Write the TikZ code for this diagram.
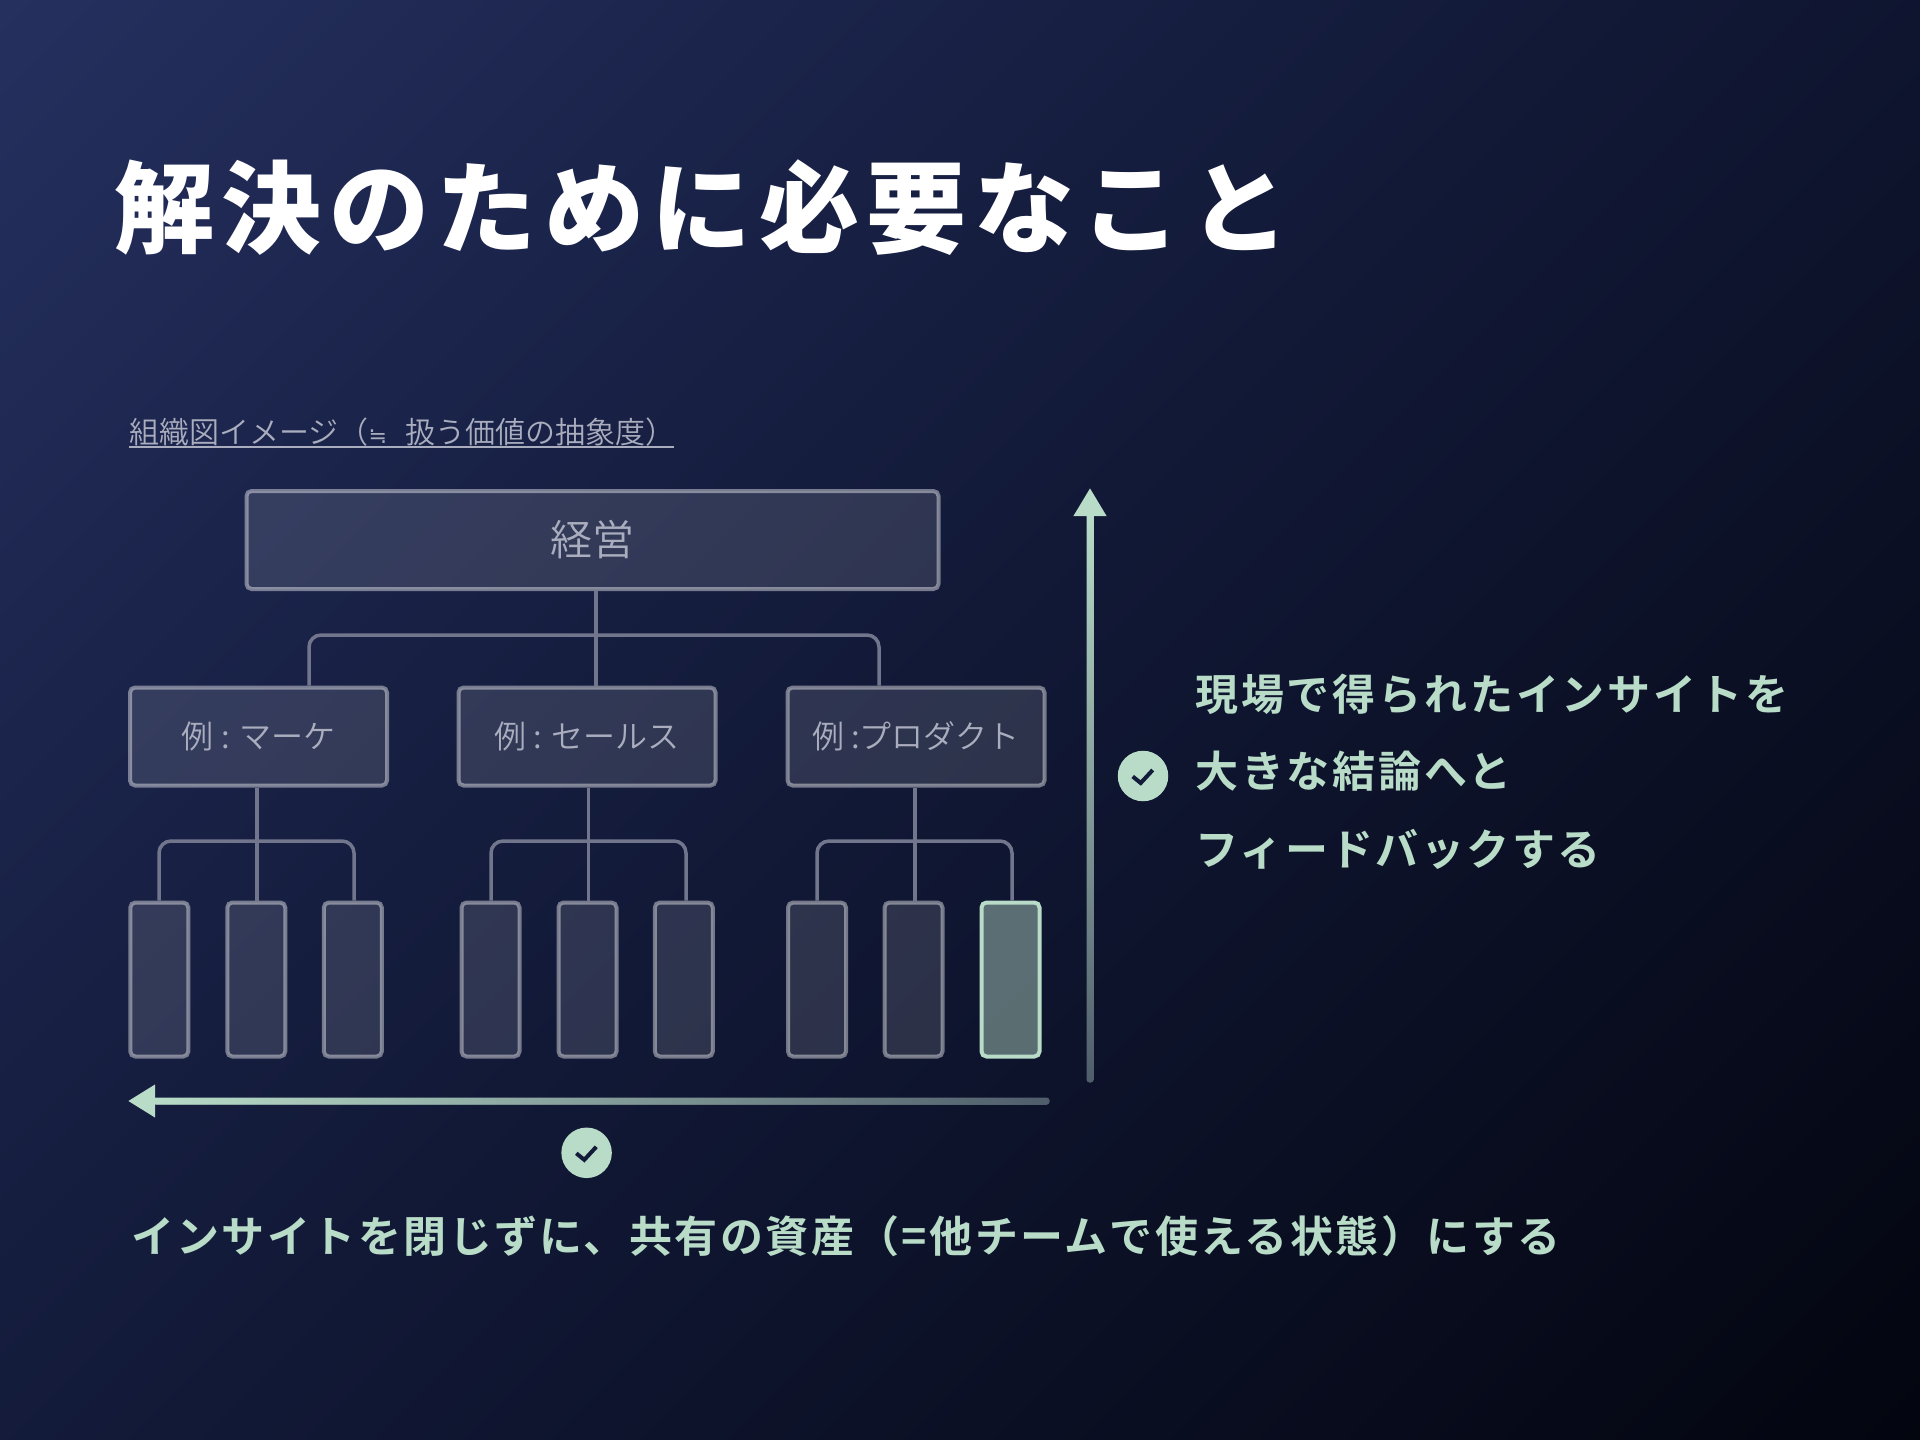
\documentclass[tikz,border=0pt]{standalone}
\usepackage{fontspec}
\setmainfont{Noto Sans CJK JP DemiLight}
\newfontfamily\symf{DejaVu Sans}
\newfontfamily\ttl{Noto Sans CJK JP Black}[LetterSpace=7.5]
\newfontfamily\mintf{Noto Sans CJK JP Bold}[LetterSpace=5.6]
\newfontfamily\mintg{Noto Sans CJK JP Bold}[LetterSpace=6.6]
\usetikzlibrary{arrows.meta,calc}
\definecolor{bgA}{HTML}{25305F}
\definecolor{bgM}{HTML}{1A2349}
\definecolor{bgB}{HTML}{111835}
\definecolor{bgC}{HTML}{03050F}
\definecolor{mint}{HTML}{B8DCC8}
\definecolor{mintdark}{HTML}{4F5D6B}
\definecolor{linec}{HTML}{72768D}
\definecolor{labelc}{HTML}{A9ADBD}
\definecolor{ink}{HTML}{141B3A}
\pgfdeclarehorizontalshading{bgdiag}{100bp}{color(0bp)=(bgA); color(25bp)=(bgA); color(37.5bp)=(bgM); color(50bp)=(bgB); color(75bp)=(bgC); color(100bp)=(bgC)}
\tikzset{
  boxbase/.style={draw=white,draw opacity=.42,fill=white,fill opacity=.12,text opacity=1,
    line width=4pt,rounded corners=5pt,inner sep=0pt,text=labelc},
  topbox/.style={boxbase,minimum width=692pt,minimum height=98pt,font=\fontsize{42}{50}\selectfont},
  midbox/.style={boxbase,minimum width=257pt,minimum height=98pt,font=\fontsize{32}{38}\selectfont},
  leafbox/.style={boxbase,minimum width=58pt,minimum height=154pt},
  hotbox/.style={leafbox,draw=mint,draw opacity=1,fill=mint,fill opacity=.45},
  conn/.style={draw=linec,line width=3.5pt},
  rail/.style={conn,rounded corners=12pt},
  axisline/.style={draw=mintdark,line width=7pt,line cap=round},
  tickdisc/.style={circle,fill=mint,minimum size=50.5pt,inner sep=0pt},
  tickmark/.style={draw=ink,line width=4pt,line join=miter},
  mintlabel/.style={anchor=west,inner sep=0pt,text=mint,font=\mintf\fontsize{43}{50}\selectfont},
  mintwide/.style={mintlabel,font=\mintg\fontsize{43}{50}\selectfont},
}
\begin{document}
\begin{tikzpicture}[x=1pt,y=-1pt]
\useasboundingbox (0,0) rectangle (1920,1440);
\begin{scope}
\clip (0,0) rectangle (1920,1440);
\shade[shading=bgdiag,transform canvas={rotate around={-45:(960,720)}}] (-228,-468) rectangle (2148,1908);
\end{scope}
% title and caption
\node[anchor=west,inner sep=0pt,text=white,font=\ttl\fontsize{100}{120}\selectfont] (title) at (114,208) {解決のために必要なこと};
\node[anchor=west,inner sep=0pt,text=labelc,font=\fontsize{30}{36}\selectfont] (caption) at (129,432) {組織図イメージ（{\symf\fontsize{22}{36}\selectfont ≒}\hspace*{18pt}扱う価値の抽象度）};
\coordinate (capL) at (129,447);
\coordinate (capR) at (674,447);
\draw[draw=labelc,line width=1.6pt] (capL) -- (capR);
% boxes
\node[topbox] (top) at (592.5,540) {経営};
\node[midbox] (m1) at (258.5,736.5) {\raisebox{-2pt}{例 : マーケ}};
\node[midbox] (m2) at (587,736.5) {\raisebox{-2pt}{例 : セールス}};
\node[midbox] (m3) at (916,736.5) {\raisebox{-2pt}{例 :プロダクト}};
\foreach \n/\x in {a1/159.3,a2/256.3,a3/352.8,b1/490.5,b2/587.5,b3/683.8,c1/817,c2/913.5}{
  \node[leafbox] (\n) at (\x,979.5) {};
}
\node[hotbox] (c3) at (1010.5,979.5) {};
% connectors
\coordinate (r1) at (309,635);
\coordinate (r2) at (596,635);
\coordinate (r3) at (879,635);
\draw[conn] (top.south -| r2) -- (m2.north -| r2);
\draw[rail] (m1.north -| r1) -- (r1) -- (r3) -- (m3.north -| r3);
\foreach \m/\l/\c/\r/\cx/\lx/\rx in {m1/a1/a2/a3/257/159/354,m2/b1/b2/b3/588.5/491/686,m3/c1/c2/c3/915/817/1012}{
  \coordinate (rl) at (\lx,841);
  \coordinate (rr) at (\rx,841);
  \coordinate (rc) at (\cx,841);
  \draw[conn] (\m.south -| rc) -- (\c.north -| rc);
  \draw[rail] (\l.north -| rl) -- (rl) -- (rr) -- (\r.north -| rr);
}
% axis arrows
\coordinate (upFrom) at (1090,1079);
\coordinate (upTip) at (1090,488);
\coordinate (leftFrom) at (1046,1101);
\coordinate (leftTip) at (128,1101);
\draw[axisline,-{Triangle[length=28pt,width=31pt,color=mint]}] (upFrom) -- (upTip);
\draw[axisline,-{Triangle[length=27pt,width=31pt,color=mint]}] (leftFrom) -- (leftTip);
\shade[top color=mint,middle color=mint!88!mintdark,bottom color=mintdark,rounded corners=3pt] (1086.5,513) rectangle (1093.5,1082.5);
\shade[left color=mint,middle color=mint!65!mintdark,right color=mintdark,rounded corners=3pt] (153,1097.5) rectangle (1049.5,1104.5);
% ticks
\node[tickdisc] (t1) at (1143,776) {};
\draw[tickmark] ($(t1)+(-10.3,0.5)$) -- ($(t1)+(-2.3,7)$) -- ($(t1)+(9.7,-6)$);
\node[tickdisc] (t2) at (586.6,1152.8) {};
\draw[tickmark] ($(t2)+(-10.3,0.5)$) -- ($(t2)+(-2.3,7)$) -- ($(t2)+(9.7,-6)$);
% mint labels
\node[mintwide] (l1) at (1195,694) {現場で得られたインサイトを};
\node[mintwide] (l2) at (1195,771) {大きな結論へと};
\node[mintlabel] (l3) at (1195,849) {フィードバックする};
\node[mintlabel] (l4) at (131,1236) {インサイトを閉じずに、共有の資産（=他チームで使える状態）にする};
\end{tikzpicture}
\end{document}
